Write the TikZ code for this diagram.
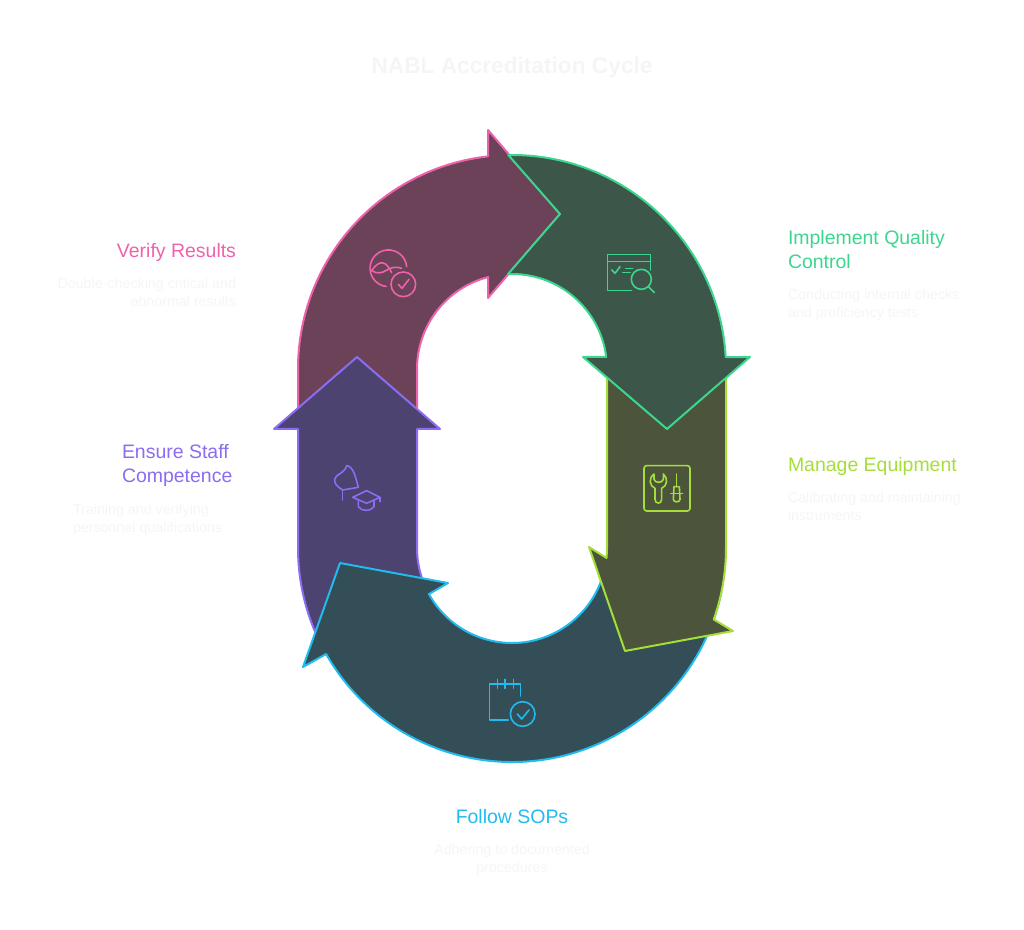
\documentclass[tikz,border=0pt]{standalone}
\usepackage{fontspec}
\setmainfont{Liberation Sans}
\usetikzlibrary{calc}
\definecolor{pinkS}{HTML}{EE62AC}
\definecolor{pinkF}{RGB}{107,66,88}
\definecolor{greenS}{HTML}{3DD68F}
\definecolor{greenF}{RGB}{60,87,73}
\definecolor{oliveS}{HTML}{A5DE38}
\definecolor{oliveF}{RGB}{76,84,59}
\definecolor{blueS}{HTML}{22BBEE}
\definecolor{blueF}{RGB}{52,78,88}
\definecolor{purpS}{HTML}{8B6CF2}
\definecolor{purpF}{RGB}{76,67,112}
\definecolor{faint}{HTML}{F5F5F5}
\tikzset{
  x=0.75pt,y=0.75pt,
  band/.style={line width=1.5pt,line join=round},
  ico/.style={line width=1.2pt,line cap=round,line join=round},
  head/.style={inner sep=0pt,outer sep=0pt,font=\fontsize{14.6}{18}\selectfont},
  desc/.style={inner sep=0pt,outer sep=0pt,text=faint,font=\fontsize{10.7}{13.5}\selectfont},
  iconbox/.style={x=0.25pt,y=-0.25pt}
}
\begin{document}
\begin{tikzpicture}
\useasboundingbox (0,0) rectangle (1024,929);
\coordinate (ct) at (512,560);
\coordinate (cb) at (512,381);
% pink
\draw[band,draw=pinkS,fill=pinkF] (298,509) -- (298,560) arc[start angle=180,end angle=96.44,radius=214*0.75pt] -- (488,799) -- (560,715) -- (488,631) -- ($(ct)+(104.6:95)$) arc[start angle=104.6,end angle=180,radius=95*0.75pt] -- (417,509) -- cycle;
% purple
\draw[band,draw=purpS,fill=purpF] (357,572) -- (440,500) -- (417,500) -- (417,381) arc[start angle=180,end angle=205,radius=95*0.75pt] -- ($(cb)+(205:214)$) arc[start angle=205,end angle=180,radius=214*0.75pt] -- (298,500) -- (274,500) -- cycle;
% blue
\draw[band,draw=blueS,fill=blueF] (303,262) -- ($(cb)+(209.7:214)$) arc[start angle=209.7,end angle=348,radius=214*0.75pt] -- ($(cb)+(348:95)$) arc[start angle=348,end angle=209,radius=95*0.75pt] -- (448,346) -- (340,366) -- cycle;
% olive
\draw[band,draw=oliveS,fill=oliveF] (607,559) -- (607,381) arc[start angle=0,end angle=-6,radius=95*0.75pt] -- (589,382) -- (625,278) -- (733,298) -- ($(cb)+(-19.5:214)$) arc[start angle=-19.5,end angle=0,radius=214*0.75pt] -- (726,559) -- cycle;
% green
\draw[band,draw=greenS,fill=greenF] ($(ct)+(91:214)$) arc[start angle=91,end angle=3.2,radius=214*0.75pt] -- (750,572) -- (667,500) -- (583,572) -- ($(ct)+(7.26:95)$) arc[start angle=7.26,end angle=92.4,radius=95*0.75pt] -- (560,715) -- cycle;

% verify icon
\begin{scope}[shift={(280,809)},iconbox,draw=pinkS,ico]
\draw (380,440) arc[start angle=5,end angle=263,radius=55*0.25pt];
\draw (370,493) circle (37);
\draw (355,493) -- (366,505) -- (387,478);
\draw (275,452) .. controls (300,415) and (320,425) .. (335,458);
\draw (275,452) .. controls (315,475) and (320,430) .. (365,445);
\end{scope}
% quality icon
\begin{scope}[shift={(500,789)},iconbox,draw=greenS,ico]
\draw (395,452) -- (323,452) -- (323,343) -- (452,343) -- (452,390);
\draw (323,365) -- (452,365);
\draw (335,390) -- (345,400) -- (360,380);
\draw (377,385) -- (398,385);
\draw (368,397) -- (390,397);
\draw (424,418) circle (30);
\draw (445,440) -- (463,458);
\end{scope}
% equipment icon
\begin{scope}[shift={(630,479)},iconbox,draw=oliveS,ico]
\draw[rounded corners=2pt] (42,47) rectangle (180,183);
\draw (72,72) .. controls (55,85) and (58,108) .. (75,115) -- (75,148) .. controls (75,163) and (95,163) .. (95,148) -- (95,115) .. controls (112,108) and (115,85) .. (100,72) -- (100,88) .. controls (97,100) and (75,100) .. (72,88) -- cycle;
\draw (140,72) -- (140,110);
\draw (132,110) -- (148,110) -- (150,148) .. controls (150,158) and (130,158) .. (130,148) -- cycle;
\draw (122,130) -- (158,130);
\end{scope}
% staff icon
\begin{scope}[shift={(320,479)},iconbox,draw=purpS,ico]
\draw (68,150) -- (68,120);
\draw (80,47) .. controls (78,62) and (60,70) .. (50,78) .. controls (38,88) and (42,105) .. (68,120) -- (115,112) .. controls (108,85) and (100,48) .. (80,47) -- cycle;
\draw (98,142) -- (140,122) -- (180,142) -- (140,160) -- cycle;
\draw (115,152) -- (115,170) .. controls (125,185) and (152,185) .. (162,170) -- (162,152);
\draw (180,142) -- (180,155);
\end{scope}
% calendar icon
\begin{scope}[shift={(480,259)},iconbox,draw=blueS,ico]
\draw (85,150) -- (28,150) -- (28,42) -- (122,42) -- (122,78);
\draw (52,28) -- (52,55);
\draw (75,28) -- (75,55);
\draw (100,28) -- (100,55);
\draw (128,132) circle (37);
\draw (112,132) -- (125,147) -- (147,120);
\end{scope}

% texts
\node[inner sep=0pt,anchor=base,text=faint,font=\bfseries\fontsize{17}{20}\selectfont] (title) at (512,855) {NABL Accreditation Cycle};
\node[head,text=pinkS,anchor=base east] (t1) at (236,671) {Verify Results};
\node[desc,align=right,anchor=base east] (d1) at (236,622) {Double-checking critical and\\abnormal results};
\node[head,text=purpS,align=left,anchor=base west] (t2) at (122,446) {Ensure Staff\\Competence};
\node[desc,align=left,anchor=base west] (d2) at (73,396) {Training and verifying\\personnel qualifications};
\node[head,text=greenS,align=left,anchor=base west] (t3) at (788,660) {Implement Quality\\Control};
\node[desc,align=left,anchor=base west] (d3) at (788,611) {Conducting internal checks\\and proficiency tests};
\node[head,text=oliveS,anchor=base west] (t4) at (788,457) {Manage Equipment};
\node[desc,align=left,anchor=base west] (d4) at (788,408) {Calibrating and maintaining\\instruments};
\node[head,text=blueS,anchor=base] (t5) at (512,106) {Follow SOPs};
\node[desc,align=center,anchor=base] (d5) at (512,57) {Adhering to documented\\procedures};
\end{tikzpicture}
\end{document}
